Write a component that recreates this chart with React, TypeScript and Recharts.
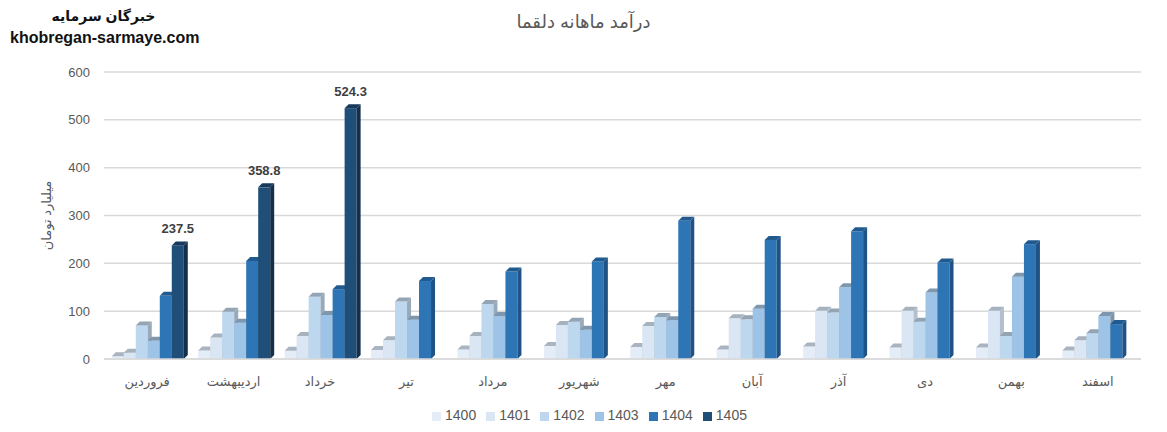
import React from "react";
import {
  Bar,
  BarChart,
  CartesianGrid,
  LabelList,
  Legend,
  XAxis,
  YAxis,
} from "recharts";

const MONTHS = [
  "فروردین",
  "اردیبهشت",
  "خرداد",
  "تیر",
  "مرداد",
  "شهریور",
  "مهر",
  "آبان",
  "آذر",
  "دی",
  "بهمن",
  "اسفند",
];

const YEARS = ["1400", "1401", "1402", "1403", "1404", "1405"];

const Y1400 = [6, 18, 17, 19, 20, 27, 25, 20, 26, 24, 24, 18];
const Y1401 = [13, 45, 48, 39, 48, 71, 69, 85, 101, 101, 101, 39];
const Y1402 = [70, 99, 130, 120, 115, 78, 88, 83, 97, 78, 48, 54];
const Y1403 = [38, 76, 92, 82, 90, 61, 81, 105, 150, 139, 172, 90];
const Y1404 = [132, 205, 146, 163, 183, 204, 289, 249, 267, 202, 240, 73];
const Y1405 = [237.5, 358.8, 524.3, null, null, null, null, null, null, null, null, null];

const Y_TICKS = [0, 100, 200, 300, 400, 500, 600];

const SERIES = [Y1400, Y1401, Y1402, Y1403, Y1404, Y1405];

// front / top / side shades per year
const FRONT = ["#e3ecf7", "#dae6f4", "#bdd7ee", "#9dc3e6", "#2e75b6", "#1f4e79"];
const TOP = ["#a9b4c0", "#a7b2bf", "#93a4b4", "#7f97ae", "#215a8e", "#17395a"];
const SIDE = ["#b9c3cf", "#b3bfcc", "#98a9ba", "#7c93a9", "#1f5285", "#142f4b"];

const data = MONTHS.map((month, i) => {
  const row: Record<string, string | number | null> = { month };
  YEARS.forEach((y, s) => {
    row["y" + y] = SERIES[s][i];
  });
  return row;
});

const D = 4;

function make3D(s: number) {
  return (props: any) => {
    const { x, y, width, height } = props;
    if (!height || height <= 0) return <g />;
    const w = width;
    return (
      <g>
        <rect x={x} y={y} width={w} height={height} fill={FRONT[s]} />
        <polygon
          points={`${x + w},${y} ${x + w + D},${y - D} ${x + w + D},${y + height - D} ${x + w},${y + height}`}
          fill={SIDE[s]}
        />
        <polygon
          points={`${x},${y} ${x + D},${y - D} ${x + w + D},${y - D} ${x + w},${y}`}
          fill={TOP[s]}
        />
      </g>
    );
  };
}

const FONT = "'Liberation Sans', 'DejaVu Sans', sans-serif";

export default function App() {
  return (
    <div style={{ position: "relative", width: 1167, height: 432, background: "#fff", fontFamily: FONT }}>
      <style>{`body{margin:0}`}</style>
      <div
        style={{
          position: "absolute",
          left: 0,
          top: 8,
          width: 207,
          textAlign: "center",
          fontWeight: "bold",
          fontSize: 14,
          color: "#111",
          direction: "rtl",
        }}
      >
        خبرگان سرمایه
      </div>
      <div
        style={{
          position: "absolute",
          left: 10,
          top: 29,
          fontWeight: "bold",
          fontSize: 16,
          color: "#111",
        }}
      >
        khobregan-sarmaye.com
      </div>
      <div
        style={{
          position: "absolute",
          left: 0,
          top: 11,
          width: 1167,
          textAlign: "center",
          fontSize: 18,
          color: "#595959",
          direction: "rtl",
        }}
      >
        درآمد ماهانه دلقما
      </div>
      <BarChart
        width={1167}
        height={432}
        data={data}
        margin={{ top: 72, right: 26, bottom: 9, left: 20 }}
        barGap={0}
        barCategoryGap="9%"
        style={{ fontFamily: FONT }}
      >
        <CartesianGrid horizontal vertical={false} stroke="#d9d9d9" strokeWidth={1.5} />
        <XAxis
          dataKey="month"
          tickLine={false}
          axisLine={{ stroke: "#d9d9d9", strokeWidth: 1.5 }}
          tick={{ fill: "#595959", fontSize: 13 }}
          tickMargin={12}
          height={40}
          interval={0}
        />
        <YAxis
          domain={[0, 600]}
          ticks={Y_TICKS}
          tickLine={false}
          axisLine={false}
          tickSize={0}
          tickMargin={14}
          width={84}
          tick={{ fill: "#595959", fontSize: 13 }}
          label={{
            value: "میلیارد تومان",
            angle: -90,
            position: "insideLeft",
            offset: 26,
            style: { fill: "#595959", fontSize: 13, textAnchor: "middle" },
          }}
        />
        <Legend
          verticalAlign="bottom"
          align="center"
          iconType="square"
          iconSize={9}
          wrapperStyle={{ fontSize: 14, paddingTop: 8, paddingLeft: 14 }}
          formatter={(value: string) => <span style={{ color: "#595959" }}>{value}</span>}
        />
        {YEARS.map((y, s) => (
          <Bar
            key={y}
            dataKey={"y" + y}
            name={y}
            fill={FRONT[s]}
            shape={make3D(s)}
            isAnimationActive={false}
          >
            {y === "1405" && (
              <LabelList
                dataKey={"y" + y}
                position="top"
                offset={12}
                style={{ fill: "#404040", fontSize: 13, fontWeight: "bold" }}
              />
            )}
          </Bar>
        ))}
      </BarChart>
    </div>
  );
}
